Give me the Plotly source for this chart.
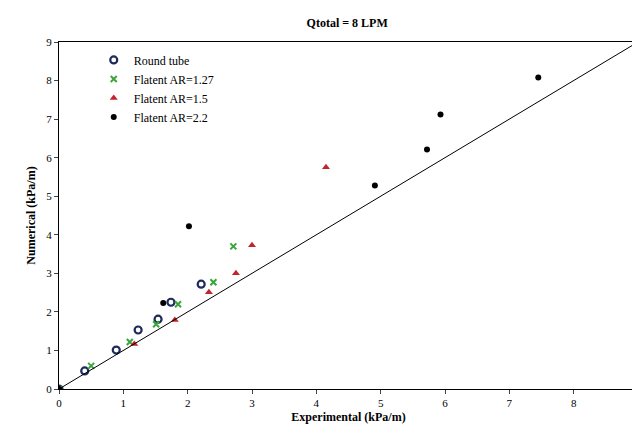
import plotly.graph_objects as go

round_x = [0, 0.4, 0.89, 1.23, 1.54, 1.74, 2.21]
round_y = [0, 0.47, 1.01, 1.53, 1.81, 2.25, 2.72]
ar127_x = [0, 0.5, 1.1, 1.51, 1.85, 2.4, 2.71]
ar127_y = [0, 0.6, 1.22, 1.68, 2.2, 2.77, 3.7]
ar15_x = [0, 1.17, 1.8, 2.33, 2.75, 3.0, 4.15]
ar15_y = [0, 1.17, 1.79, 2.51, 3.0, 3.73, 5.75]
ar22_x = [0, 1.62, 2.02, 4.91, 5.72, 5.93, 7.45]
ar22_y = [0, 2.23, 4.22, 5.28, 6.21, 7.12, 8.08]
line_xy = [0, 9]
ticks = list(range(10))

font = "Liberation Serif, Times New Roman, serif"

fig = go.Figure()
fig.add_trace(go.Scatter(x=round_x, y=round_y, mode="markers", name="Round tube",
                         marker=dict(symbol="circle-open", size=7, color="#1f2a5c", line=dict(width=2.2))))
fig.add_trace(go.Scatter(x=ar127_x, y=ar127_y, mode="markers", name="Flatent AR=1.27",
                         marker=dict(symbol="x-thin-open", size=6, color="#3aa63a", line=dict(width=2, color="#3aa63a"))))
fig.add_trace(go.Scatter(x=ar15_x, y=ar15_y, mode="markers", name="Flatent AR=1.5",
                         marker=dict(symbol="triangle-up", size=7, color="#c0262c")))
fig.add_trace(go.Scatter(x=ar22_x, y=ar22_y, mode="markers", name="Flatent AR=2.2",
                         marker=dict(symbol="circle", size=6, color="black")))
fig.add_trace(go.Scatter(x=line_xy, y=line_xy, mode="lines", showlegend=False,
                         line=dict(color="black", width=1)))

axis = dict(range=[0, 9], tickvals=ticks, showgrid=False, zeroline=False, showline=True,
            linecolor="black", linewidth=1, mirror=True, ticks="outside", ticklen=4,
            automargin=False, tickfont=dict(size=11, family=font, color="black"))
fig.update_layout(
    width=640, height=424, plot_bgcolor="white", paper_bgcolor="white",
    margin=dict(l=51, r=10, t=34, b=43),
    title=dict(text="<b>Qtotal = 8 LPM</b>", x=0.53, y=0.975, xanchor="center", yanchor="top",
               automargin=False, font=dict(size=12, family=font, color="black")),
    xaxis=dict(axis, title=dict(text="<b>Experimental (kPa/m)</b>", standoff=4,
                                font=dict(size=12, family=font, color="black"))),
    yaxis=dict(axis, title=dict(text="<b>Numerical (kPa/m)</b>", standoff=8,
                                font=dict(size=12, family=font, color="black"))),
    legend=dict(x=0.06, y=0.99, bgcolor="rgba(0,0,0,0)", tracegroupgap=8,
                font=dict(size=12, family=font, color="black"), itemwidth=30),
)
fig.write_html("out.html")
